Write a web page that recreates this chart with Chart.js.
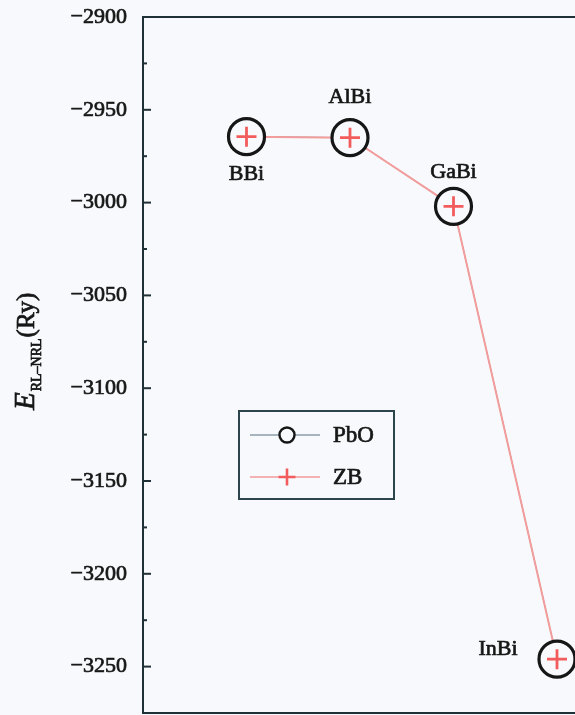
<!DOCTYPE html>
<html>
<head>
<meta charset="utf-8">
<script src="https://cdn.jsdelivr.net/npm/chart.js@4.4.1/dist/chart.umd.min.js"></script>
<style>
  html, body { margin: 0; padding: 0; background: #f8f9fc; overflow: hidden; }
  #wrap { position: relative; width: 575px; height: 715px; overflow: hidden; }
  #wrap canvas { position: absolute; left: 0; top: 0; background: #f8f9fc; }
</style>
</head>
<body>
<div id="wrap"><canvas id="chart" width="690" height="760"></canvas></div>
<script>
// compounds along x (positions 1..4), energies in Ry
const compounds = ['BBi', 'AlBi', 'GaBi', 'InBi'];
const positions = [1, 2, 3, 4];
const pboEnergy = [-2964.5, -2965, -3002, -3246];
const zbEnergy = [-2964.5, -2965, -3002, -3246];

const SERIF = '"Liberation Serif", "DejaVu Serif", serif';
const INK = '#161616';
const AXIS = '#1f3036';
const ZB_LINE = '#f29c9c';
const ZB_MARK = '#f25c5c';
const PBO_LINE = '#55707a';

// where each compound name sits relative to its marker
const labelOffsets = [[0, 38], [0, -40], [0, -34], [-59, -10]];

function pts(vals) {
    return positions.map((x, i) => ({ x: x, y: vals[i] }));
}

// text drawn a bit heavier, like the scanned figure
function heavyText(ctx, txt, x, y) {
    ctx.lineWidth = 0.7;
    ctx.strokeStyle = ctx.fillStyle;
    ctx.strokeText(txt, x, y);
    ctx.fillText(txt, x, y);
}

// box round the plot + inward ticks on the y axis
const framePlugin = {
    id: 'frame',
    afterDraw(chart) {
        const ctx = chart.ctx;
        const a = chart.chartArea;
        const y = chart.scales.y;
        ctx.save();
        ctx.strokeStyle = AXIS;
        ctx.lineWidth = 2;
        ctx.strokeRect(a.left, a.top, a.right - a.left, a.bottom - a.top);

        const vals = y.ticks.map(t => t.value);
        vals.forEach(v => {
            const py = y.getPixelForValue(v);
            ctx.beginPath();
            ctx.moveTo(a.left, py);
            ctx.lineTo(a.left + 8, py);
            ctx.stroke();
            const pm = y.getPixelForValue(v - 25);
            if (pm <= a.bottom) {
                ctx.beginPath();
                ctx.moveTo(a.left, pm);
                ctx.lineTo(a.left + 4, pm);
                ctx.stroke();
            }
        });
        ctx.restore();
    }
};

// rotated y title with subscript
const yTitlePlugin = {
    id: 'ytitle',
    afterDraw(chart) {
        const ctx = chart.ctx;
        ctx.save();
        ctx.translate(34, 410);
        ctx.rotate(-Math.PI / 2);
        ctx.fillStyle = INK;
        ctx.textAlign = 'left';
        ctx.textBaseline = 'alphabetic';
        let x = 0;
        ctx.font = 'italic 29px ' + SERIF;
        heavyText(ctx, 'E', x, 0);
        x += ctx.measureText('E').width + 1;
        ctx.font = '14px ' + SERIF;
        heavyText(ctx, 'RL\u2013NRL', x, 7);
        x += ctx.measureText('RL\u2013NRL').width + 1;
        ctx.font = '25px ' + SERIF;
        heavyText(ctx, '(Ry)', x, 0);
        ctx.restore();
    }
};

// compound names next to the markers
const pointLabelPlugin = {
    id: 'pointLabels',
    afterDatasetsDraw(chart) {
        const ctx = chart.ctx;
        const meta = chart.getDatasetMeta(1);
        ctx.save();
        ctx.font = '22px ' + SERIF;
        ctx.fillStyle = INK;
        ctx.textAlign = 'center';
        ctx.textBaseline = 'middle';
        meta.data.forEach((p, i) => {
            const o = labelOffsets[i];
            heavyText(ctx, compounds[i], p.x + o[0], p.y + o[1]);
        });
        ctx.restore();
    }
};

// boxed legend inside the plot
const legendBoxPlugin = {
    id: 'legendBox',
    afterDraw(chart) {
        const ctx = chart.ctx;
        const a = chart.chartArea;
        const bx = a.left + 96, by = a.top + 394;
        ctx.save();
        ctx.strokeStyle = '#2c444c';
        ctx.lineWidth = 2;
        ctx.strokeRect(bx, by, 155, 88);

        // PbO
        const ry = by + 24;
        ctx.strokeStyle = PBO_LINE;
        ctx.lineWidth = 1.2;
        ctx.beginPath(); ctx.moveTo(bx + 11, ry); ctx.lineTo(bx + 81, ry); ctx.stroke();
        ctx.beginPath(); ctx.arc(bx + 48, ry, 7.5, 0, Math.PI * 2);
        ctx.fillStyle = '#f8f9fc'; ctx.fill();
        ctx.strokeStyle = INK; ctx.lineWidth = 2.4; ctx.stroke();

        // ZB
        const ry2 = by + 66;
        ctx.strokeStyle = ZB_LINE;
        ctx.lineWidth = 1.5;
        ctx.beginPath(); ctx.moveTo(bx + 11, ry2); ctx.lineTo(bx + 81, ry2); ctx.stroke();
        ctx.strokeStyle = ZB_MARK;
        ctx.lineWidth = 2.6;
        ctx.beginPath();
        ctx.moveTo(bx + 48 - 8.5, ry2); ctx.lineTo(bx + 48 + 8.5, ry2);
        ctx.moveTo(bx + 48, ry2 - 8.5); ctx.lineTo(bx + 48, ry2 + 8.5);
        ctx.stroke();

        ctx.fillStyle = INK;
        ctx.font = '23px ' + SERIF;
        ctx.textAlign = 'left';
        ctx.textBaseline = 'middle';
        heavyText(ctx, 'PbO', bx + 94, ry + 1);
        heavyText(ctx, 'ZB', bx + 94, ry2 + 1);
        ctx.restore();
    }
};

new Chart(document.getElementById('chart').getContext('2d'), {
    type: 'scatter',
    data: {
        datasets: [
            {
                label: 'ZB',
                data: pts(zbEnergy),
                showLine: false,
                pointStyle: 'cross',
                pointRadius: 10,
                pointBorderWidth: 2.8,
                pointBorderColor: ZB_MARK,
                order: 0
            },
            {
                label: 'PbO',
                data: pts(pboEnergy),
                showLine: false,
                pointStyle: 'circle',
                pointRadius: 18,
                pointBorderWidth: 3.2,
                pointBorderColor: INK,
                pointBackgroundColor: '#f8f9fc',
                order: 1
            },
            {
                label: 'ZB line',
                data: pts(zbEnergy),
                showLine: true,
                borderColor: ZB_LINE,
                borderWidth: 2,
                pointRadius: 0,
                order: 2
            },
            {
                label: 'PbO line',
                data: pts(pboEnergy),
                showLine: true,
                borderColor: PBO_LINE,
                borderWidth: 1,
                pointRadius: 0,
                order: 3
            }
        ]
    },
    options: {
        responsive: false,
        animation: false,
        devicePixelRatio: 1,
        layout: { autoPadding: false, padding: { left: 0, top: 17, right: 29.5, bottom: 47 } },
        plugins: {
            legend: { display: false },
            tooltip: { enabled: false }
        },
        scales: {
            x: {
                type: 'linear',
                min: 0,
                max: 5,
                display: false
            },
            y: {
                min: -3275,
                max: -2900,
                grid: { display: false, drawTicks: false },
                border: { display: false },
                ticks: {
                    stepSize: 50,
                    includeBounds: false,
                    padding: 16,
                    color: INK,
                    textStrokeColor: INK,
                    textStrokeWidth: 0.7,
                    font: { family: SERIF, size: 22 },
                    callback: v => '\u2212' + Math.abs(v)
                },
                afterFit(scale) {
                    scale.width = 143;
                    scale.paddingTop = 0;
                    scale.paddingBottom = 0;
                }
            }
        }
    },
    plugins: [framePlugin, yTitlePlugin, pointLabelPlugin, legendBoxPlugin]
});
</script>
</body>
</html>
